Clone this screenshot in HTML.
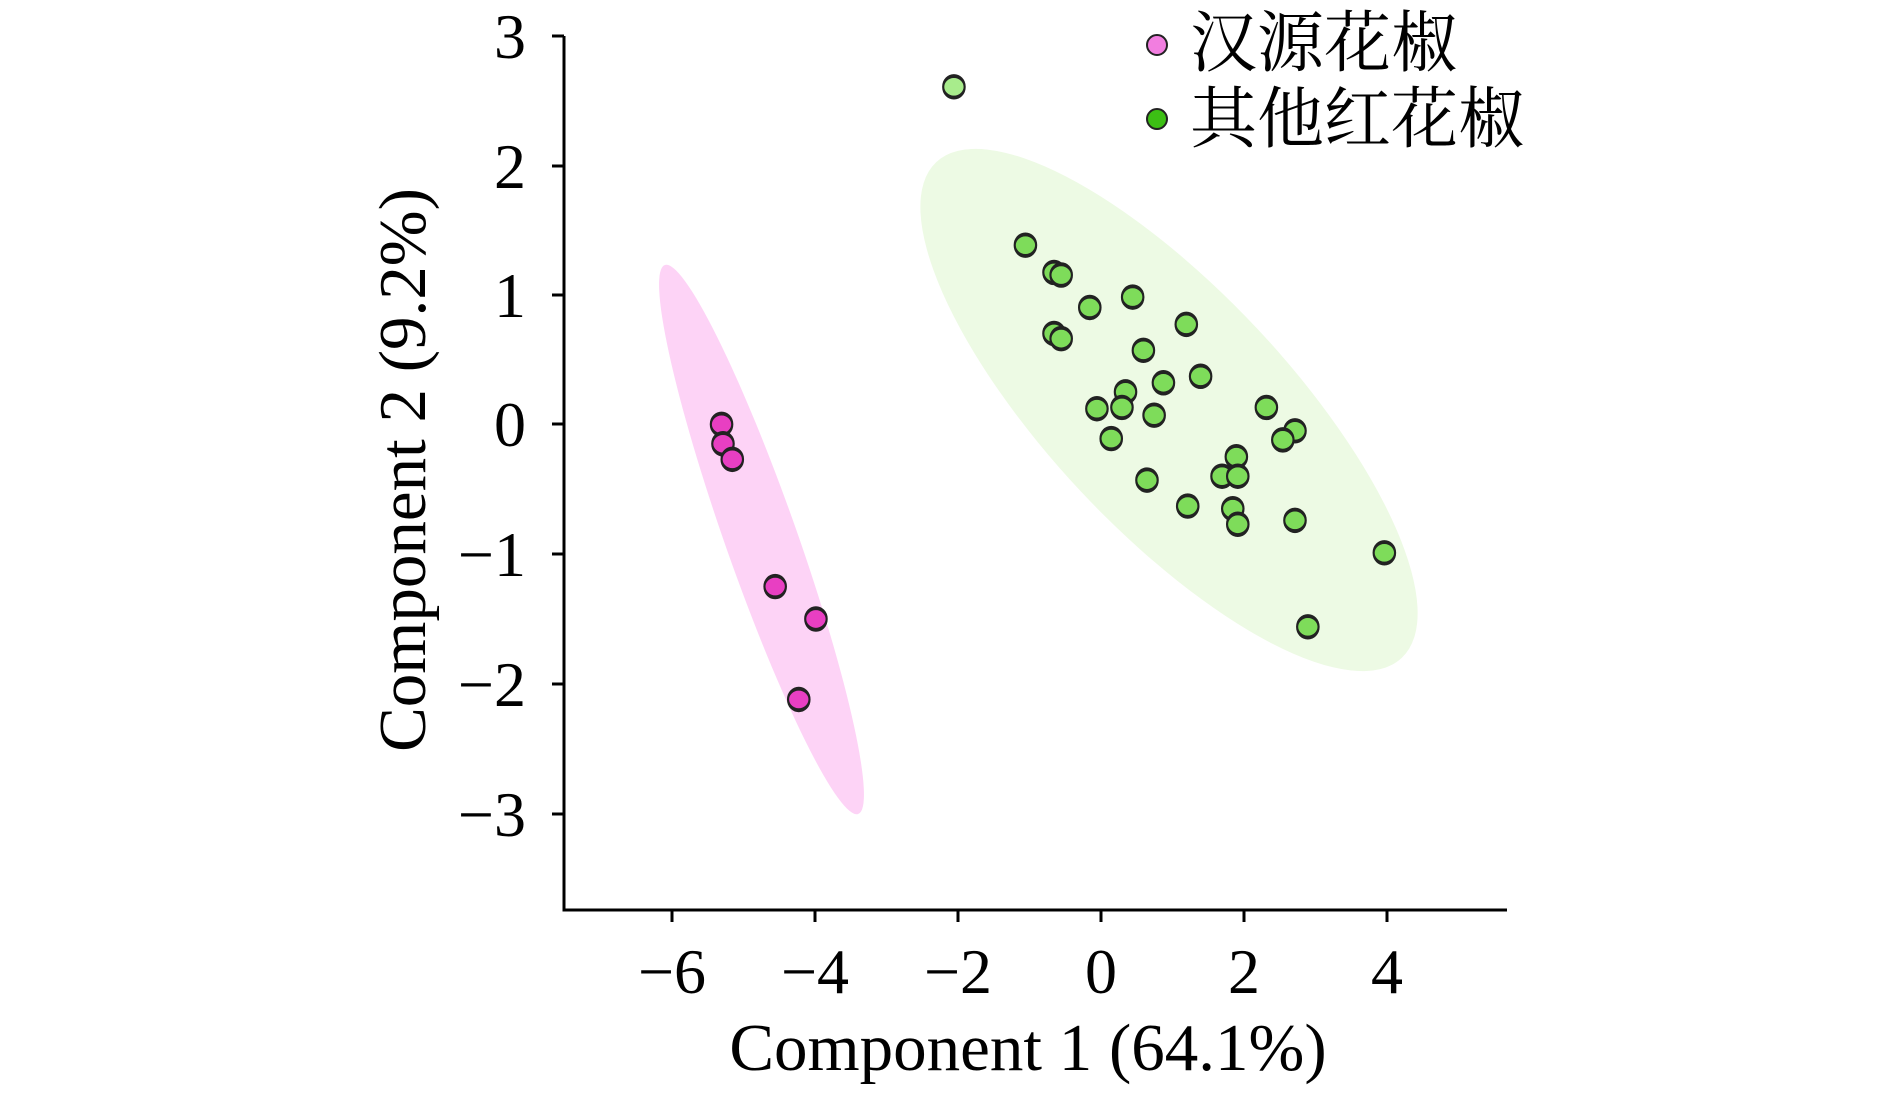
<!DOCTYPE html>
<html><head><meta charset="utf-8"><style>html,body{margin:0;padding:0;background:#fff}</style></head><body>
<svg width="1890" height="1088" xmlns="http://www.w3.org/2000/svg" font-family="'Liberation Serif','Noto Serif CJK SC',serif">
<rect width="1890" height="1088" fill="#fff"/>
<ellipse cx="761.5" cy="539.5" rx="291" ry="36" transform="rotate(70.6 761.5 539.5)" fill="#fdd3f6"/>
<ellipse cx="1169" cy="410" rx="340" ry="120" transform="rotate(46.8 1169 410)" fill="#edfae4"/>
<g stroke="#000" stroke-width="3" fill="none">
<path d="M564 36 V910 H1507"/>
<path d="M552 36 H564 M552 166 H564 M552 295 H564 M552 424 H564 M552 554 H564 M552 684 H564 M552 814 H564"/>
<path d="M672 910 V922 M815 910 V922 M958 910 V922 M1101 910 V922 M1244 910 V922 M1387 910 V922"/>
</g>
<g font-size="64" text-anchor="end">
<text x="526" y="58">3</text><text x="526" y="188">2</text><text x="526" y="317">1</text><text x="526" y="446">0</text>
<text x="526" y="576">−1</text><text x="526" y="706">−2</text><text x="526" y="836">−3</text>
</g>
<g font-size="64" text-anchor="middle">
<text x="672" y="993">−6</text><text x="815" y="993">−4</text><text x="958" y="993">−2</text><text x="1101" y="993">0</text><text x="1244" y="993">2</text><text x="1387" y="993">4</text>
</g>
<text x="1028" y="1070" font-size="67" text-anchor="middle">Component 1 (64.1%)</text>
<text transform="translate(425 470) rotate(-90)" font-size="67" text-anchor="middle">Component 2 (9.2%)</text>
<g transform="translate(1100.5 424.3) scale(71.5 -129.8)" stroke="#222" stroke-width="0.03">
<g fill="#e83fc2">
<ellipse cx="-5.3" cy="0" rx="0.15" ry="0.083"/><ellipse cx="-5.28" cy="-0.15" rx="0.15" ry="0.083"/><ellipse cx="-5.15" cy="-0.27" rx="0.15" ry="0.083"/><ellipse cx="-4.55" cy="-1.25" rx="0.15" ry="0.083"/><ellipse cx="-3.98" cy="-1.5" rx="0.15" ry="0.083"/><ellipse cx="-4.22" cy="-2.12" rx="0.15" ry="0.083"/>
</g>
<ellipse cx="-2.05" cy="2.6" rx="0.15" ry="0.083" fill="#a8ec8c"/>
<g fill="#7edc5a">
<ellipse cx="-1.05" cy="1.38" rx="0.15" ry="0.083"/><ellipse cx="-0.65" cy="1.17" rx="0.15" ry="0.083"/><ellipse cx="-0.55" cy="1.15" rx="0.15" ry="0.083"/><ellipse cx="-0.15" cy="0.9" rx="0.15" ry="0.083"/><ellipse cx="0.45" cy="0.98" rx="0.15" ry="0.083"/><ellipse cx="-0.65" cy="0.7" rx="0.15" ry="0.083"/><ellipse cx="-0.55" cy="0.66" rx="0.15" ry="0.083"/><ellipse cx="1.2" cy="0.77" rx="0.15" ry="0.083"/><ellipse cx="0.6" cy="0.57" rx="0.15" ry="0.083"/><ellipse cx="0.35" cy="0.25" rx="0.15" ry="0.083"/><ellipse cx="0.88" cy="0.32" rx="0.15" ry="0.083"/><ellipse cx="1.4" cy="0.37" rx="0.15" ry="0.083"/><ellipse cx="-0.05" cy="0.12" rx="0.15" ry="0.083"/><ellipse cx="0.3" cy="0.13" rx="0.15" ry="0.083"/><ellipse cx="0.75" cy="0.07" rx="0.15" ry="0.083"/><ellipse cx="0.15" cy="-0.11" rx="0.15" ry="0.083"/><ellipse cx="2.32" cy="0.13" rx="0.15" ry="0.083"/><ellipse cx="2.72" cy="-0.05" rx="0.15" ry="0.083"/><ellipse cx="2.55" cy="-0.12" rx="0.15" ry="0.083"/><ellipse cx="1.9" cy="-0.25" rx="0.15" ry="0.083"/><ellipse cx="1.7" cy="-0.4" rx="0.15" ry="0.083"/><ellipse cx="1.92" cy="-0.4" rx="0.15" ry="0.083"/><ellipse cx="0.65" cy="-0.43" rx="0.15" ry="0.083"/><ellipse cx="1.22" cy="-0.63" rx="0.15" ry="0.083"/><ellipse cx="1.85" cy="-0.65" rx="0.15" ry="0.083"/><ellipse cx="1.92" cy="-0.77" rx="0.15" ry="0.083"/><ellipse cx="2.72" cy="-0.74" rx="0.15" ry="0.083"/><ellipse cx="3.97" cy="-0.99" rx="0.15" ry="0.083"/><ellipse cx="2.9" cy="-1.56" rx="0.15" ry="0.083"/>
</g>
</g>
<circle cx="1157" cy="45" r="10" fill="#f27ee0" stroke="#222" stroke-width="2"/>
<circle cx="1157" cy="119" r="10" fill="#3cbf14" stroke="#222" stroke-width="2"/>
<g font-size="67" font-family="'Noto Serif CJK SC','Noto Sans CJK SC',serif">
<text x="1190" y="66">汉源花椒</text>
<text x="1190" y="142">其他红花椒</text>
</g>
</svg>
</body></html>
